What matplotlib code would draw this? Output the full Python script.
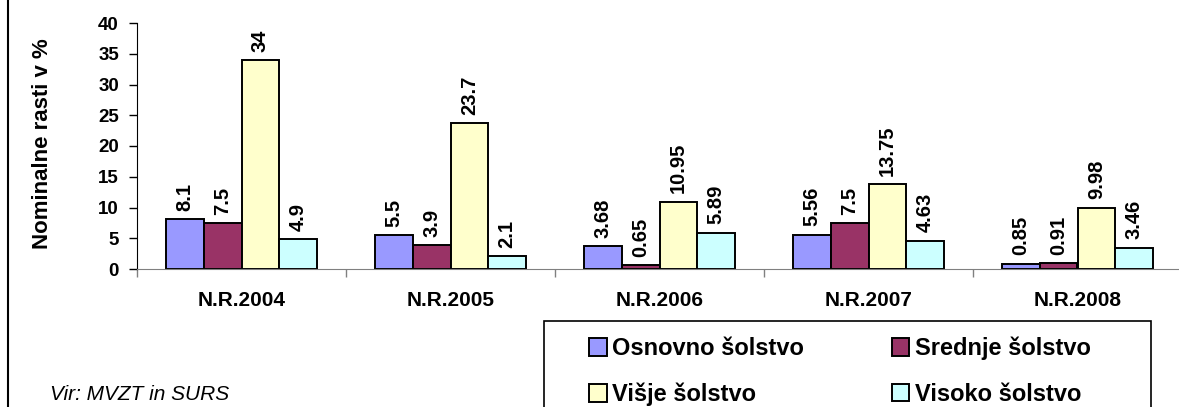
import matplotlib
matplotlib.use("Agg")
from matplotlib import pyplot as plt
from matplotlib.patches import Rectangle
from matplotlib.lines import Line2D
import numpy as np

plt.rcParams['font.family'] = ['Liberation Sans', 'DejaVu Sans']

# podatki
leta = ['N.R.2004', 'N.R.2005', 'N.R.2006', 'N.R.2007', 'N.R.2008']
osnovno = [8.1, 5.5, 3.68, 5.56, 0.85]
srednje = [7.5, 3.9, 0.65, 7.5, 0.91]
visje = [34, 23.7, 10.95, 13.75, 9.98]
visoko = [4.9, 2.1, 5.89, 4.63, 3.46]
oznake = ['8.1', '5.5', '3.68', '5.56', '0.85'], ['7.5', '3.9', '0.65', '7.5', '0.91'], \
         ['34', '23.7', '10.95', '13.75', '9.98'], ['4.9', '2.1', '5.89', '4.63', '3.46']
imena = ['Osnovno šolstvo', 'Srednje šolstvo', 'Višje šolstvo', 'Visoko šolstvo']
barve = ['#9999FF', '#993366', '#FFFFCC', '#CCFFFF']

W, H = 1179, 407
fig = plt.figure(figsize=(W / 100, H / 100), dpi=100)
ax = fig.add_axes([137 / W, 1 - 269 / H, (1182 - 137) / W, (269 - 23) / H])

x = np.arange(len(leta))
w = 0.181
serije = [osnovno, srednje, visje, visoko]
for i, s in enumerate(serije):
    pos = x + (i - 1.5) * w
    ax.bar(pos, s, w, color=barve[i], edgecolor='black', linewidth=1.4, zorder=2)
    for p, v, t in zip(pos, s, oznake[i]):
        ax.annotate(t, (p, v), xytext=(0, 6), textcoords='offset points',
                    rotation=90, ha='center', va='bottom',
                    fontsize=14.5, fontweight='bold')

ax.set_xlim(-0.5, 4.5)
ax.set_ylim(0, 40)
ax.set_yticks(np.arange(0, 41, 5))
ax.set_xticks(x)
ax.set_xticklabels(leta, fontsize=15, fontweight='bold')
ax.set_xticks(np.arange(-0.5, 5, 1), minor=True)
ax.tick_params(axis='x', which='major', length=0, pad=16)
ax.tick_params(axis='x', which='minor', length=6, width=1, color='#808080', direction='out')
ax.tick_params(axis='y', length=6, width=1, direction='out', pad=7)
for lab in ax.get_yticklabels():
    lab.set_fontsize(13.5)
    lab.set_fontweight('bold')

ax.spines['top'].set_visible(False)
ax.spines['right'].set_visible(False)
ax.spines['bottom'].set_color('#808080')
ax.spines['left'].set_color('black')

fig.text(43 / W, 1 - 144 / H, 'Nominalne rasti v %', rotation=90,
         ha='center', va='center', fontsize=16, fontweight='bold')

fig.text(50 / W, 1 - 395 / H, 'Vir: MVZT in SURS', ha='left', va='center',
         fontsize=15, style='italic')

# leva obroba
fig.add_artist(Line2D([8 / W, 8 / W], [0, 1], color='black', linewidth=1.5,
                      transform=fig.transFigure))

# okvir legende
fig.add_artist(Rectangle((544 / W, -0.05), (1151 - 544) / W, 0.05 + 1 - 321 / H,
                         transform=fig.transFigure, facecolor='white',
                         edgecolor='black', linewidth=1.2, zorder=1))

# legenda po vrsticah: ncol=2 polni po stolpcih, zato premešamo vrstni red
red = [0, 2, 1, 3]
rocaji = [Rectangle((0, 0), 1, 1, facecolor=barve[i], edgecolor='black', linewidth=1.4)
          for i in red]
leg = fig.legend(rocaji, [imena[i] for i in red], ncol=2, loc='upper left',
                 bbox_to_anchor=(577 / W, 1 - 325 / H), frameon=False,
                 prop={'size': 17, 'weight': 'bold'},
                 handlelength=0.75, handleheight=0.75, handletextpad=0.25,
                 columnspacing=3.7, labelspacing=0.95, borderpad=0)
leg.set_zorder(3)

fig.savefig('out.png', dpi=100)
